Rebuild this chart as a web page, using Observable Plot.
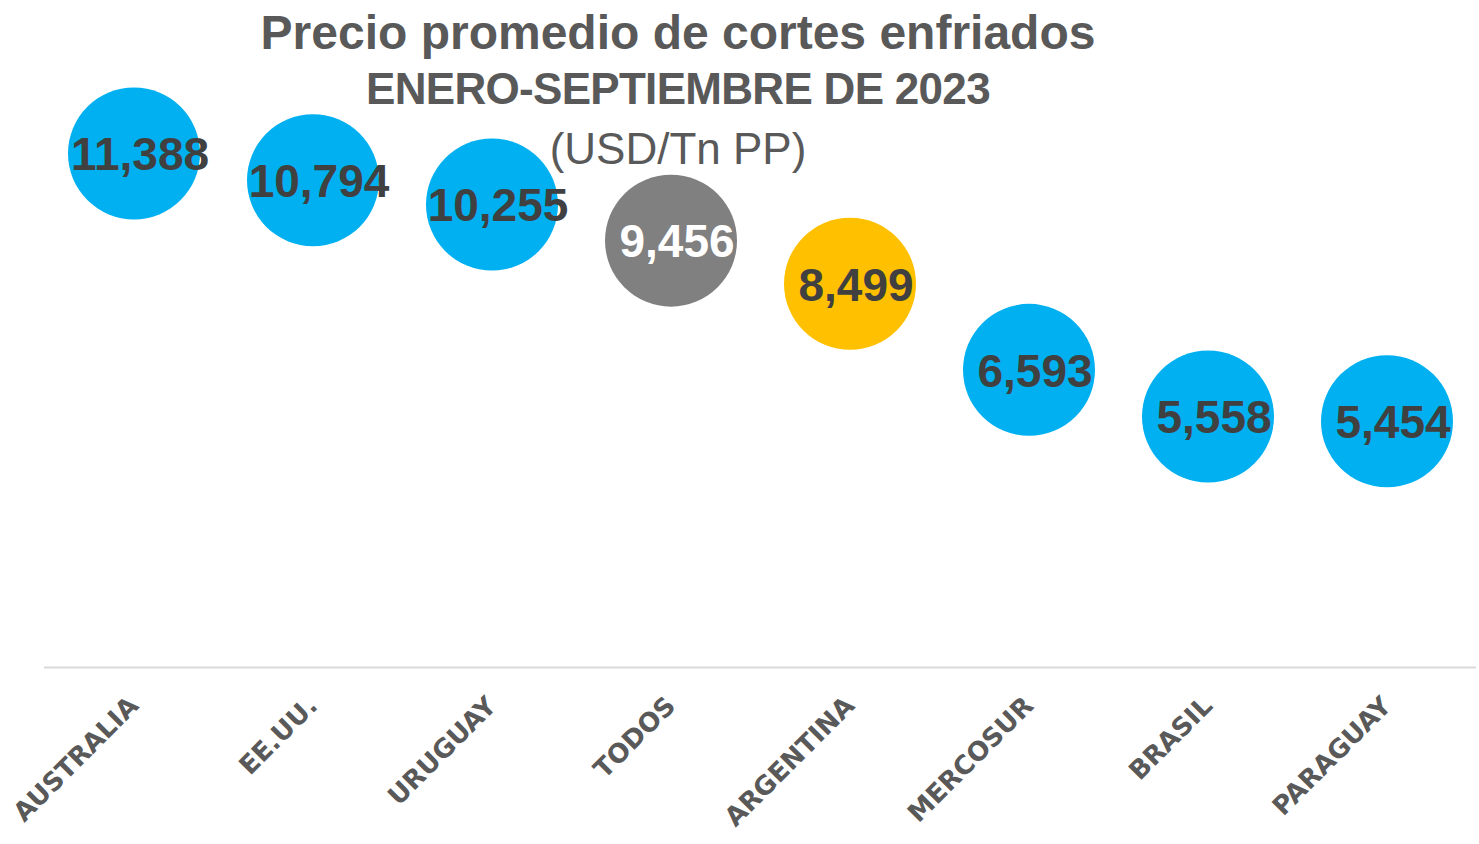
<!DOCTYPE html>
<html>
<head>
<meta charset="utf-8">
<script src="https://cdn.jsdelivr.net/npm/d3@7"></script>
<script src="https://cdn.jsdelivr.net/npm/@observablehq/plot@0.6"></script>
<style>
  html, body { margin: 0; padding: 0; background: #fff; }
  #wrap { position: relative; width: 1479px; height: 844px; }
  #title { position: absolute; left: 0; top: 0; width: 1356px; text-align: center; color: #595959; font-family: "Liberation Sans", Arial, sans-serif; pointer-events: none; }
  #title .l1 { font-weight: bold; font-size: 48px; line-height: 56px; margin-top: 5px; }
  #title .l2 { font-weight: bold; font-size: 44px; line-height: 56px; letter-spacing: -0.7px; }
  #title .l3 { font-weight: normal; font-size: 44px; line-height: 60px; margin-top: 2px; }
</style>
</head>
<body>
<div id="wrap">
  <div id="chart"></div>
  <div id="title">
    <div class="l1">Precio promedio de cortes enfriados</div>
    <div class="l2">ENERO-SEPTIEMBRE DE 2023</div>
    <div class="l3">(USD/Tn PP)</div>
  </div>
</div>
<script>
const categories = ["AUSTRALIA", "EE.UU.", "URUGUAY", "TODOS", "ARGENTINA", "MERCOSUR", "BRASIL", "PARAGUAY"];
const values = [11388, 10794, 10255, 9456, 8499, 6593, 5558, 5454];
const colors = ["#00B0F0", "#00B0F0", "#00B0F0", "#808080", "#FFC000", "#00B0F0", "#00B0F0", "#00B0F0"];
const labelColors = ["#404040", "#404040", "#404040", "#FFFFFF", "#404040", "#404040", "#404040", "#404040"];

const data = categories.map((c, i) => ({name: c, value: values[i], color: colors[i], labelColor: labelColors[i]}));

const chart = Plot.plot({
  width: 1479,
  height: 844,
  marginLeft: 44,
  marginRight: 3,
  marginTop: 35,
  marginBottom: 177,
  style: {fontFamily: "'DejaVu Sans', sans-serif", background: "#fff"},
  x: {type: "band", domain: categories, padding: 0, label: null},
  y: {domain: [0, 14000], axis: null},
  marks: [
    Plot.ruleY([0], {stroke: "#D9D9D9", strokeWidth: 2}),
    Plot.dot(data, {x: "name", y: "value", r: 66, fill: "color", stroke: null}),
    Plot.text(data, {x: "name", y: "value", text: d => d3.format(",")(d.value), fill: "labelColor", fontSize: 46, fontWeight: "bold", fontFamily: "'Liberation Sans', Arial, sans-serif", dx: 6, dy: 2}),
    Plot.axisX({tickSize: 0, tickPadding: 34, tickRotate: -45, fontSize: 26, fontWeight: "bold", fill: "#595959", label: null})
  ]
});
document.getElementById("chart").appendChild(chart);
</script>
</body>
</html>
